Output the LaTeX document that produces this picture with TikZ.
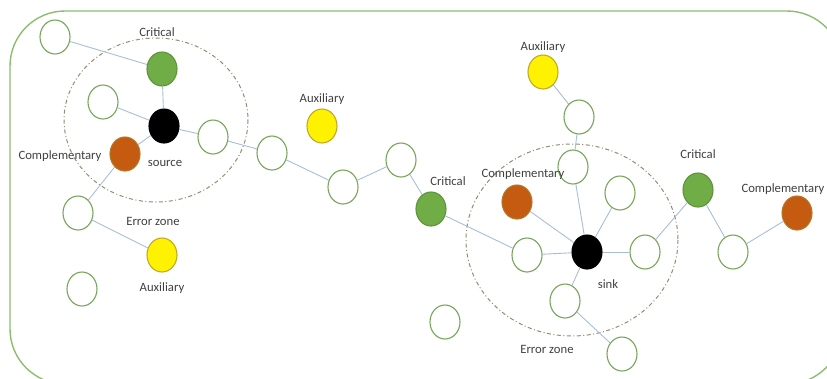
\documentclass[tikz,border=0pt]{standalone}
\usepackage{fontspec}
\setmainfont{Carlito}
\usepackage{tikz}
\usetikzlibrary{arrows,positioning,shapes.geometric}

\definecolor{nodegreen}{RGB}{112,173,71}
\definecolor{rimgreen}{RGB}{120,165,90}
\definecolor{nodeorange}{RGB}{197,90,17}
\definecolor{rimorange}{RGB}{180,120,40}
\definecolor{rimyellow}{RGB}{190,170,40}
\definecolor{linkblue}{RGB}{168,190,215}
\definecolor{zonegray}{RGB}{145,140,115}
\definecolor{labelgray}{RGB}{64,64,64}

\begin{document}
\begin{tikzpicture}[x=1pt, y=-1pt]
        \tikzstyle{vertex} = [ellipse, draw=rimgreen, line width=1.1pt, fill=white, minimum width=30pt, minimum height=34pt, inner sep=0pt]
        \tikzstyle{critical} = [vertex, draw=nodegreen!85!black, fill=nodegreen]
        \tikzstyle{compl} = [vertex, draw=rimorange, fill=nodeorange]
        \tikzstyle{aux} = [vertex, draw=rimyellow, fill=yellow]
        \tikzstyle{hub} = [vertex, draw=black, fill=black]
        \tikzstyle{tag} = [text=labelgray, font=\fontsize{12.7}{15}\selectfont, inner sep=0pt]
        \tikzstyle{link} = [draw=linkblue, line width=0.9pt]
        \tikzstyle{zone} = [draw=zonegray, line width=1pt, dash pattern=on 4pt off 2.5pt on 1pt off 2.5pt]
        \clip (0,0) rectangle (827,378);
        % frame and error zones
        \draw[draw=nodegreen!80!white, line width=1.4pt, rounded corners=55pt] (10,11) rectangle (842,384);
        \draw[zone] (156,120) ellipse [x radius=92, y radius=82];
        \draw[zone] (572,240) ellipse [x radius=106, y radius=96];
        % source side
        \node (w1) [vertex] at (55,37) {};
        \node (critL) [critical] at (162,69) {};
        \node (w2) [vertex] at (103,102) {};
        \node (src) [hub] at (164,126) {};
        \node (w3) [vertex] at (213,137) {};
        \node (compL) [compl] at (125,154) {};
        \node (w5) [vertex] at (78,213) {};
        \node (auxL) [aux] at (162,255) {};
        \node (w6) [vertex] at (82,289) {};
        % middle
        \node (w4) [vertex] at (272,153) {};
        \node (auxM) [aux] at (322,126) {};
        \node (w7) [vertex] at (343,187) {};
        \node (w8) [vertex] at (401,160) {};
        \node (critM) [critical] at (431,209) {};
        \node (wx) [vertex] at (445,322) {};
        % sink side
        \node (auxR) [aux] at (543,72) {};
        \node (w10) [vertex] at (579,117) {};
        \node (w11) [vertex] at (573,167) {};
        \node (w12) [vertex] at (620,193) {};
        \node (compM) [compl] at (517,202) {};
        \node (w9) [vertex] at (527,255) {};
        \node (sink) [hub] at (587,252) {};
        \node (w13) [vertex] at (645,252) {};
        \node (w15) [vertex] at (565,301) {};
        \node (w16) [vertex] at (622,354) {};
        \node (critR) [critical] at (698,190) {};
        \node (w14) [vertex] at (733,252) {};
        \node (compR) [compl] at (797,213) {};
        % labels
        \node (tCritL) [tag] at (157,32) {Critical};
        \node (tCompL) [tag] at (60,156) {Complementary};
        \node (tSrc) [tag] at (165,163) {source};
        \node (tErrL) [tag] at (153,221) {Error zone};
        \node (tAuxL) [tag] at (162,288) {Auxiliary};
        \node (tAuxM) [tag] at (322,99) {Auxiliary};
        \node (tCritM) [tag] at (448,181) {Critical};
        \node (tAuxR) [tag] at (543,47) {Auxiliary};
        \node (tCompM) [tag] at (523,174) {Complementary};
        \node (tCritR) [tag] at (698,154) {Critical};
        \node (tCompR) [tag] at (783,189) {Complementary};
        \node (tSink) [tag] at (608,284) {sink};
        \node (tErrR) [tag] at (547,349) {Error zone};
        % links
        \draw[link] (w1)--(critL); \draw[link] (critL)--(src);
        \draw[link] (w2)--(src); \draw[link] (src)--(w3);
        \draw[link] (w3)--(w4); \draw[link] (src)--(compL);
        \draw[link] (compL)--(w5); \draw[link] (w5)--(auxL);
        \draw[link] (w4)--(w7); \draw[link] (w7)--(w8);
        \draw[link] (w8)--(critM); \draw[link] (critM)--(w9);
        \draw[link] (auxR)--(w10); \draw[link] (w10)--(w11);
        \draw[link] (w11)--(sink); \draw[link] (w12)--(sink);
        \draw[link] (compM)--(sink); \draw[link] (w9)--(sink);
        \draw[link] (sink)--(w13); \draw[link] (sink)--(w15);
        \draw[link] (w15)--(w16); \draw[link] (w13)--(critR);
        \draw[link] (critR)--(w14); \draw[link] (w14)--(compR);
    \end{tikzpicture}
\end{document}
